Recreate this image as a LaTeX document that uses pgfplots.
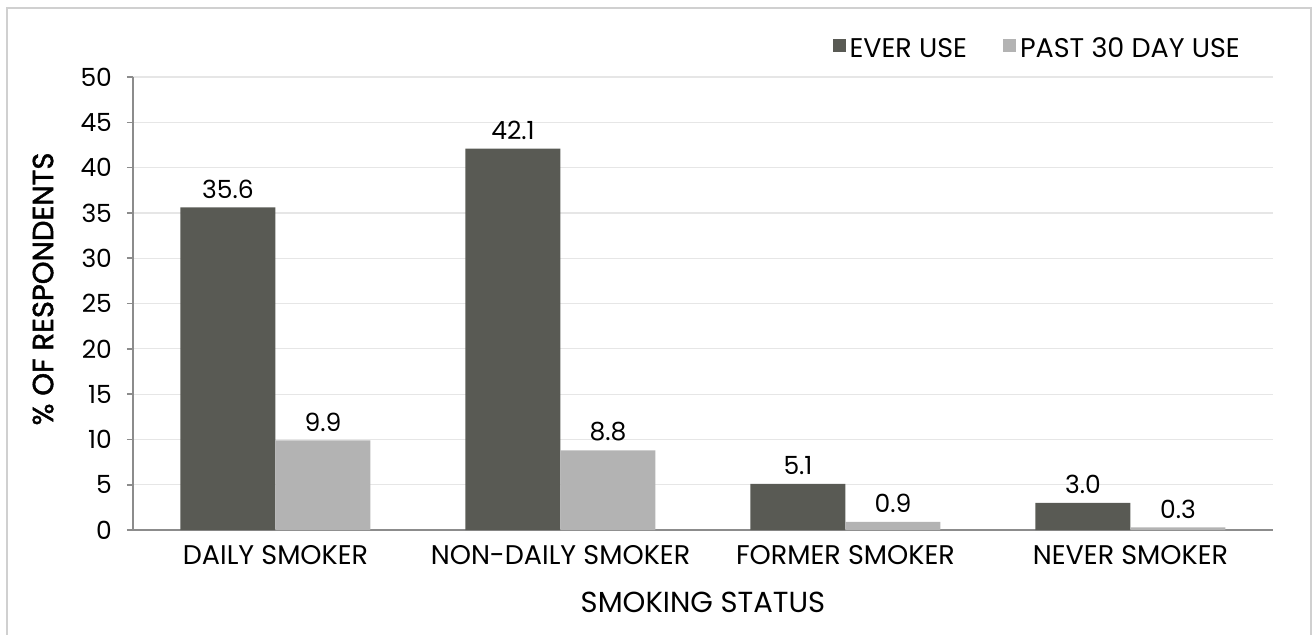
\documentclass[border=0pt]{standalone}
\usepackage{pgfplots}
\pgfplotsset{compat=1.18}
\usepackage{fontspec}
\setmainfont{Poppins}
\newfontfamily\semibold{Poppins}[FakeBold=1.6]

\definecolor{everuse}{HTML}{595A54}
\definecolor{pastuse}{HTML}{B3B3B3}
\definecolor{gridgray}{HTML}{E6E6E6}
\definecolor{axisgray}{HTML}{8C8C8C}
\definecolor{framegray}{HTML}{D0D0D0}

\begin{document}
\begin{tikzpicture}
\useasboundingbox (-66.5pt,-52pt) rectangle (590.5pt,265pt);
\draw[framegray, line width=1pt] (-62.75pt,-53pt) -- (-62.75pt,261pt) -- (589pt,261pt) -- (589pt,-53pt);
\begin{axis}[
  at={(0pt,0pt)}, anchor=south west,
  scale only axis, width=570pt, height=226.5pt,
  xmin=-0.5, xmax=3.5, ymin=0, ymax=50,
  axis lines*=left,
  axis line style={draw=axisgray, line width=1pt, -},
  ytick={0,5,...,50},
  xtick={0,1,2,3},
  xticklabels={DAILY SMOKER, NON-DAILY SMOKER, FORMER SMOKER, NEVER SMOKER},
  extra x ticks={-0.5,0.5,1.5,2.5,3.5},
  extra x tick labels={},
  extra x tick style={major tick length=3pt, tick style={draw=axisgray, line width=0.8pt}},
  major x tick style={draw=none},
  tick align=outside,
  major tick length=3pt,
  ytick style={draw=axisgray, line width=0.8pt},
  ymajorgrids,
  grid style={draw=gridgray, line width=0.6pt},
  /pgf/number format/assume math mode=true,
  yticklabel style={font=\fontsize{12.5}{14}\selectfont, xshift=-4pt},
  xticklabel style={font=\fontsize{13.5}{15}\selectfont, yshift=-1pt},
  xlabel={SMOKING STATUS},
  ylabel={\semibold \% OF RESPONDENTS},
  xlabel style={font=\fontsize{14.5}{16}\selectfont, at={(axis description cs:0.5,-0.159)}, anchor=center},
  ylabel style={font=\fontsize{14.5}{16}\selectfont, at={(axis description cs:-0.0789,0.532)}, anchor=center},
  ybar=0pt, bar width=47.5pt,
  nodes near coords,
  nodes near coords style={font=\fontsize{12.5}{14}\selectfont, /pgf/number format/.cd, fixed, fixed zerofill, precision=1, assume math mode=true, /tikz/.cd, yshift=1pt},
  legend columns=2,
  legend style={draw=none, fill=none, at={(axis cs:3.42,50)}, anchor=south east, yshift=4pt, font=\fontsize{13.5}{15}\selectfont, /tikz/every even column/.append style={column sep=16pt}},
  legend image code/.code={\fill[#1] (0pt,-0.15em) rectangle (6.5pt,-0.15em+6.5pt);},
]
\addplot[fill=everuse, draw=none] coordinates {(0,35.6) (1,42.1) (2,5.1) (3,3.0)};
\addplot[fill=pastuse, draw=none] coordinates {(0,9.9) (1,8.8) (2,0.9) (3,0.3)};
\legend{EVER USE, PAST 30 DAY USE}
\end{axis}
\end{tikzpicture}
\end{document}
